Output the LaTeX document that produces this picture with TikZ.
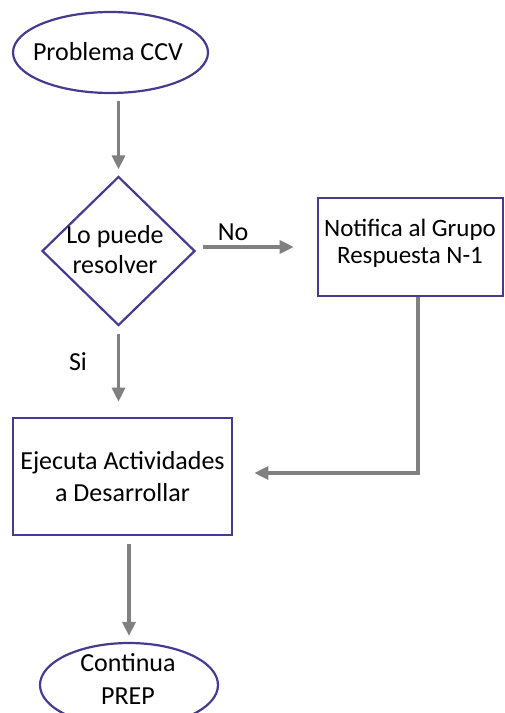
\documentclass[tikz,border=0pt]{standalone}
\usepackage{fontspec}
\setmainfont{Carlito}
\usetikzlibrary{shapes.geometric,arrows.meta}
\definecolor{borde}{RGB}{72,58,145}
\definecolor{flecha}{RGB}{128,128,128}
\begin{document}
\begin{tikzpicture}[x=0.5pt,y=-0.5pt,
	inicio/.style={ellipse,draw=borde,line width=1.1pt,inner sep=0pt,align=center},
	caja/.style={rectangle,draw=borde,line width=1.3pt,inner sep=0pt,align=center},
	decision/.style={diamond,draw=borde,line width=1.1pt,inner sep=0pt},
	flujo/.style={draw=flecha,line width=1.6pt,-{Triangle[width=6.5pt,length=7pt]}}]
			\useasboundingbox (0,0) rectangle (504,713);
			
			%%shapes
			\node[inicio,minimum width=97.5pt,minimum height=40.5pt,font=\fontsize{13}{15}\selectfont] (ccv) at (110.5,52.5) {};
			\node[font=\fontsize{13}{15}\selectfont] (ccvtxt) at (108,52) {Problema CCV};
			\node[decision,minimum width=76.5pt,minimum height=74.5pt] (dec) at (118.5,251) {};
			\node[align=center,font=\fontsize{13}{15}\selectfont] (dectxt) at (115,250) {Lo puede\\resolver};
			\node[caja,minimum width=92.5pt,minimum height=49pt] (notif) at (410.5,247) {};
			\node[align=center,font=\fontsize{12.5}{13.5}\selectfont] (notiftxt) at (410,243) {Notifica al Grupo\\Respuesta N-1};
			\node[caja,minimum width=109.5pt,minimum height=58.5pt,font=\fontsize{13}{16}\selectfont] (ejec) at (122.5,476.5) {Ejecuta Actividades\\a Desarrollar};
			\node[inicio,minimum width=89pt,minimum height=42pt] (cont) at (129,685) {};
			\node[align=center,font=\fontsize{13}{16.5}\selectfont] (conttxt) at (128,679) {Continua\\PREP};
			\coordinate (codo) at (418,473);
			
			%%arrows
			\draw[flujo,shorten <=3.5pt,shorten >=3pt] (ccv.south -| dec.north) -- (dec.north);
			\draw[flujo,shorten <=3.5pt,shorten >=11.5pt] (dec.east |- notif.west) -- (notif.west);
			\draw[flujo,shorten >=10.5pt] (notif.south -| codo) -- (codo) -- (codo -| ejec.east);
			\draw[flujo,shorten <=3.75pt,shorten >=7.5pt] (dec.south) -- (dec.south |- ejec.north);
			\draw[flujo,shorten <=4pt,shorten >=3pt] (ejec.south -| cont.north) -- (cont.north);
			
			%%labels
			\node[font=\fontsize{13}{15}\selectfont] (no) at (233,232) {No};
			\node[font=\fontsize{13}{15}\selectfont] (si) at (78,362) {Si};
		\end{tikzpicture}
\end{document}
